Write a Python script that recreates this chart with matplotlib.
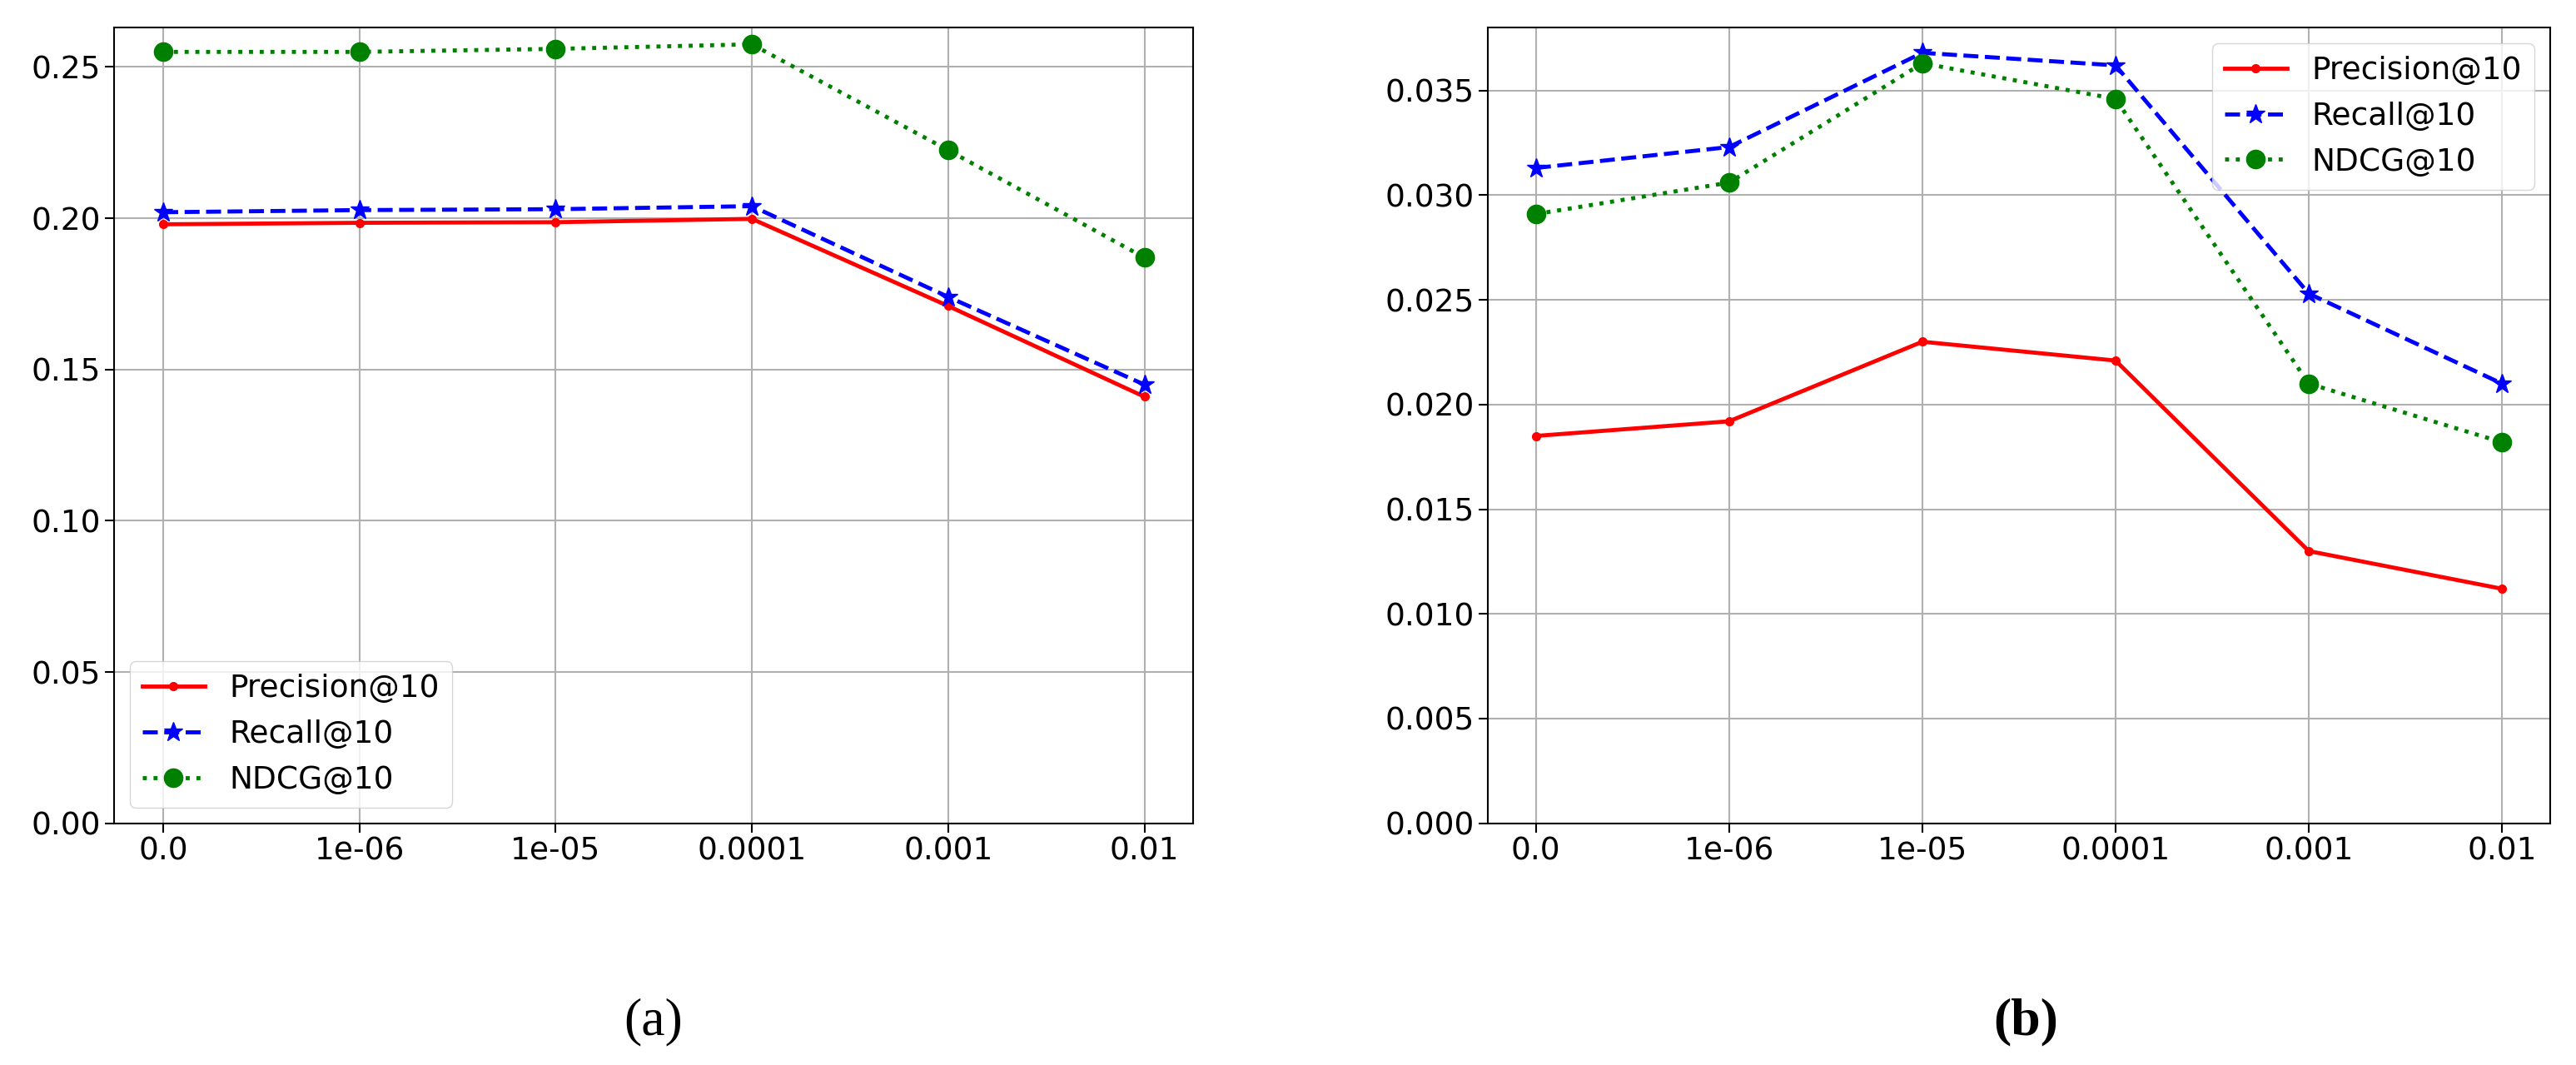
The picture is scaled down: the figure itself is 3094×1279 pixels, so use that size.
import matplotlib
matplotlib.use("Agg")
import matplotlib.pyplot as plt

labels = ["0.0", "1e-06", "1e-05", "0.0001", "0.001", "0.01"]
prec_a = [0.198, 0.1985, 0.1987, 0.1998, 0.171, 0.141]
rec_a = [0.202, 0.2027, 0.203, 0.204, 0.174, 0.145]
ndcg_a = [0.255, 0.255, 0.256, 0.2575, 0.2225, 0.187]
prec_b = [0.0185, 0.0192, 0.0230, 0.0221, 0.0130, 0.0112]
rec_b = [0.0313, 0.0323, 0.0368, 0.0362, 0.0253, 0.0210]
ndcg_b = [0.0291, 0.0306, 0.0363, 0.0346, 0.0210, 0.0182]

fig = plt.figure(figsize=(30.94, 12.79), dpi=100)
axa = fig.add_axes([0.0443, 0.227, 0.419, 0.747])
axb = fig.add_axes([0.5775, 0.227, 0.4125, 0.747])

def draw(ax, p, r, n, top, loc, yt, fmt):
    x = list(range(len(labels)))
    ax.plot(x, p, 'r-', marker='.', ms=14, lw=3.5, label='Precision@10')
    ax.plot(x, r, 'b--', marker='*', ms=17, lw=3.5, label='Recall@10')
    ax.plot(x, n, 'g:', marker='o', ms=16, lw=3.5, label='NDCG@10')
    ax.set_xticks(x)
    ax.set_xticklabels(labels)
    ax.set_yticks(yt)
    ax.set_yticklabels([fmt.format(v) for v in yt])
    ax.set_ylim(0, top)
    ax.grid(True, color='#b0b0b0', lw=1.5)
    ax.tick_params(labelsize=27, length=8, width=1.5)
    for s in ax.spines.values():
        s.set_linewidth(1.5)
    ax.legend(loc=loc, fontsize=27)

draw(axa, prec_a, rec_a, ndcg_a, 0.263, 'lower left', [0, 0.05, 0.10, 0.15, 0.20, 0.25], "{:.2f}")
draw(axb, prec_b, rec_b, ndcg_b, 0.038, 'upper right', [0, 0.005, 0.010, 0.015, 0.020, 0.025, 0.030, 0.035], "{:.3f}")

fig.text(0.2535, 0.04, "(a)", fontsize=46, family='Liberation Serif', ha='center', va='center')
fig.text(0.7865, 0.04, "(b)", fontsize=46, family='Liberation Serif', fontweight='bold', ha='center', va='center')
fig.savefig("out.png")
